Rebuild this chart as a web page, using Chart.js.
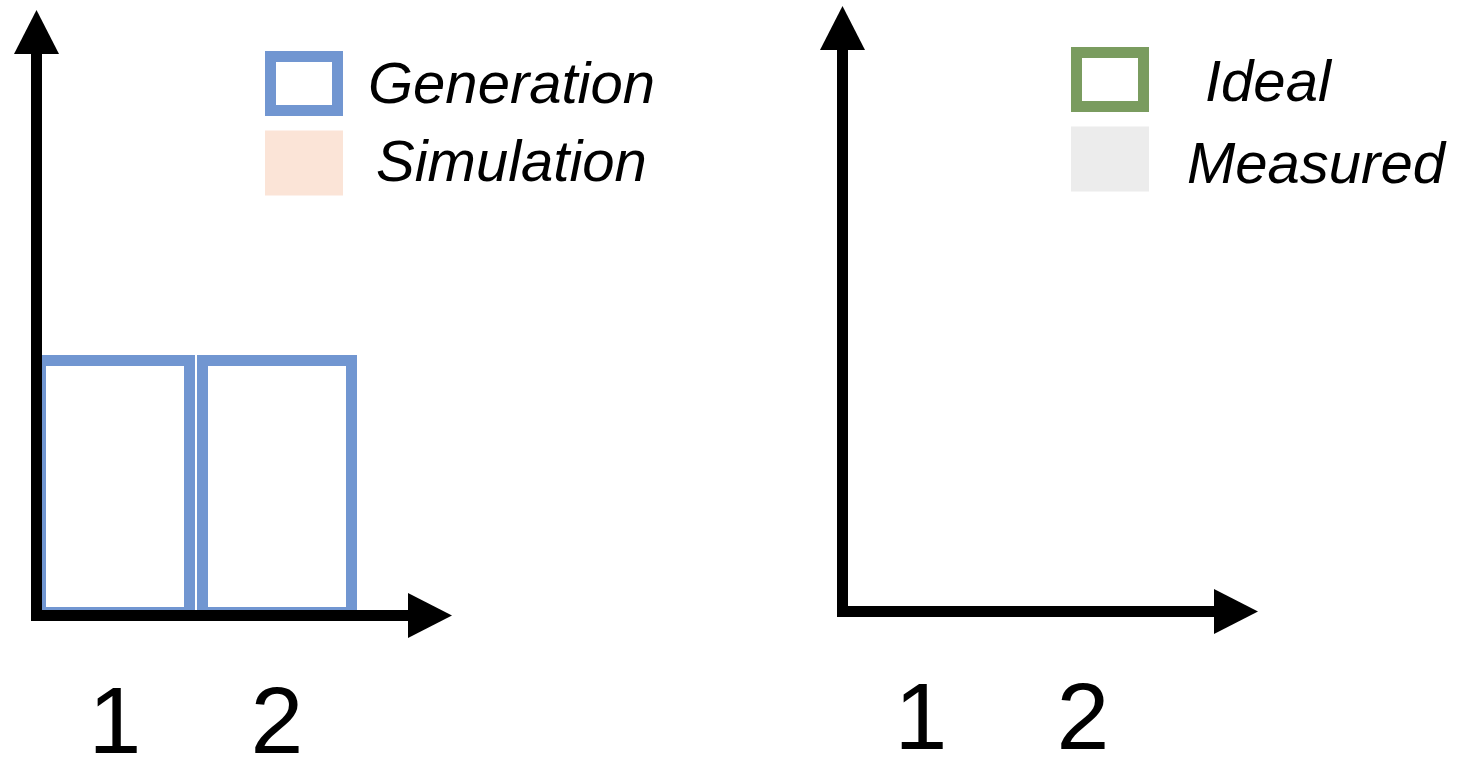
<!DOCTYPE html>
<html>
<head>
<meta charset="utf-8">
<script src="https://cdn.jsdelivr.net/npm/chart.js@4.4.0/dist/chart.umd.min.js"></script>
<style>
  html, body { margin: 0; padding: 0; background: #ffffff; overflow: hidden; width: 1458px; height: 759px; }
  #wrap { position: relative; width: 1458px; height: 759px; overflow: hidden; background: #ffffff; }
  .panel { position: absolute; }
  #p1 { left: 0px; top: 0px; width: 806px; height: 763px; }
  #p2 { left: 806px; top: -4px; width: 652px; height: 763px; }
  canvas { display: block; }
</style>
</head>
<body>
<div id="wrap">
  <div class="panel" id="p1"><canvas id="c1" width="806" height="763"></canvas></div>
  <div class="panel" id="p2"><canvas id="c2" width="652" height="763"></canvas></div>
</div>
<script>
// ---- data ----
const categories = ['1', '2'];
const generationValues = [1, 1];
const simulationValues = [null, null];
const idealValues = [null, null];
const measuredValues = [null, null];
const yMin = 0;
const yMax = 2;

// ---- styles ----
const BLUE = '#7196d1';
const PEACH = '#fbe4d7';
const GREEN = '#7a9c5f';
const GREY = '#ececec';
const FONT = '"Liberation Sans", Arial, Helvetica, sans-serif';

Chart.defaults.font.family = FONT;
Chart.defaults.color = '#000000';

const arrowAxesPlugin = {
  id: 'arrowAxes',
  afterDatasetsDraw(chart, args, o) {
    const ctx = chart.ctx, a = chart.chartArea;
    const ox = a.left + o.originDx;
    const oy = a.bottom + o.originDy;
    const hw = o.lineWidth / 2;
    const yTip = oy - o.yLength;
    const xTip = ox + o.xLength;
    ctx.save();
    ctx.fillStyle = o.color;
    ctx.fillRect(ox - hw, yTip + o.arrowLength - 1, o.lineWidth, (oy + hw) - (yTip + o.arrowLength - 1));
    ctx.fillRect(ox - hw, oy - hw, (xTip - o.arrowLength + 1) - (ox - hw), o.lineWidth);
    ctx.beginPath();
    ctx.moveTo(ox, yTip);
    ctx.lineTo(ox + o.arrowHalf, yTip + o.arrowLength);
    ctx.lineTo(ox - o.arrowHalf, yTip + o.arrowLength);
    ctx.closePath();
    ctx.fill();
    ctx.beginPath();
    ctx.moveTo(xTip, oy);
    ctx.lineTo(xTip - o.arrowLength, oy - o.arrowHalf);
    ctx.lineTo(xTip - o.arrowLength, oy + o.arrowHalf);
    ctx.closePath();
    ctx.fill();
    ctx.restore();
  }
};

const boxLegendPlugin = {
  id: 'boxLegend',
  afterDraw(chart, args, o) {
    const ctx = chart.ctx, a = chart.chartArea;
    ctx.save();
    chart.data.datasets.forEach((ds, i) => {
      const x = a.left + o.offsetX;
      const y = a.top + o.offsetY + i * o.spacing;
      const bw = ds.borderWidth || 0;
      if (bw > 0) {
        ctx.fillStyle = ds.borderColor;
        ctx.fillRect(x, y, o.boxWidth, o.boxHeight);
        ctx.fillStyle = ds.backgroundColor;
        ctx.fillRect(x + bw, y + bw, o.boxWidth - 2 * bw, o.boxHeight - 2 * bw);
      } else {
        ctx.fillStyle = ds.backgroundColor;
        ctx.fillRect(x, y, o.boxWidth, o.boxHeight);
      }
      const t = o.text[i];
      ctx.fillStyle = '#000000';
      ctx.font = o.font;
      ctx.textBaseline = 'alphabetic';
      ctx.textAlign = 'left';
      ctx.fillText(ds.label, x + t.dx, y + t.dy);
    });
    ctx.restore();
  }
};

function makeChart(canvasId, datasets, legendText) {
  const canvas = document.getElementById(canvasId);
  const W = canvas.width, H = canvas.height;
  const areaLeft = 34, areaWidth = 324, areaTop = 92, areaBottom = 618;
  return new Chart(canvas, {
    type: 'bar',
    data: { labels: categories, datasets: datasets },
    plugins: [arrowAxesPlugin, boxLegendPlugin],
    options: {
      responsive: false,
      animation: false,
      devicePixelRatio: 1,
      layout: { padding: { left: areaLeft, right: W - areaLeft - areaWidth, top: areaTop, bottom: 0 } },
      datasets: { bar: { barPercentage: 1, categoryPercentage: 160 / 162, grouped: false, borderSkipped: false } },
      scales: {
        x: {
          type: 'category',
          offset: true,
          grid: { display: false, drawTicks: false },
          border: { display: false },
          ticks: { font: { size: 95, family: FONT }, color: '#000000', padding: 52, maxRotation: 0, autoSkip: false },
          afterFit: (s) => { s.height = H - areaBottom; }
        },
        y: { display: false, min: yMin, max: yMax }
      },
      plugins: {
        legend: { display: false },
        tooltip: { enabled: false },
        arrowAxes: { color: '#000000', lineWidth: 11, originDx: 2.5, originDy: -2.5, yLength: 605.5, xLength: 415.5, arrowLength: 44, arrowHalf: 22.5 },
        boxLegend: { offsetX: 231, offsetY: -41, spacing: 79.5, boxWidth: 78, boxHeight: 65, font: 'italic 58px ' + FONT, text: legendText }
      }
    }
  });
}

makeChart('c1', [
  { label: 'Generation', data: generationValues, backgroundColor: '#ffffff', borderColor: BLUE, borderWidth: 11 },
  { label: 'Simulation', data: simulationValues, backgroundColor: PEACH, borderColor: PEACH, borderWidth: 0 }
], [ { dx: 103, dy: 52 }, { dx: 111, dy: 50 } ]);

makeChart('c2', [
  { label: 'Ideal', data: idealValues, backgroundColor: '#ffffff', borderColor: GREEN, borderWidth: 11 },
  { label: 'Measured', data: measuredValues, backgroundColor: GREY, borderColor: GREY, borderWidth: 0 }
], [ { dx: 134, dy: 54 }, { dx: 116, dy: 56 } ]);
</script>
</body>
</html>
